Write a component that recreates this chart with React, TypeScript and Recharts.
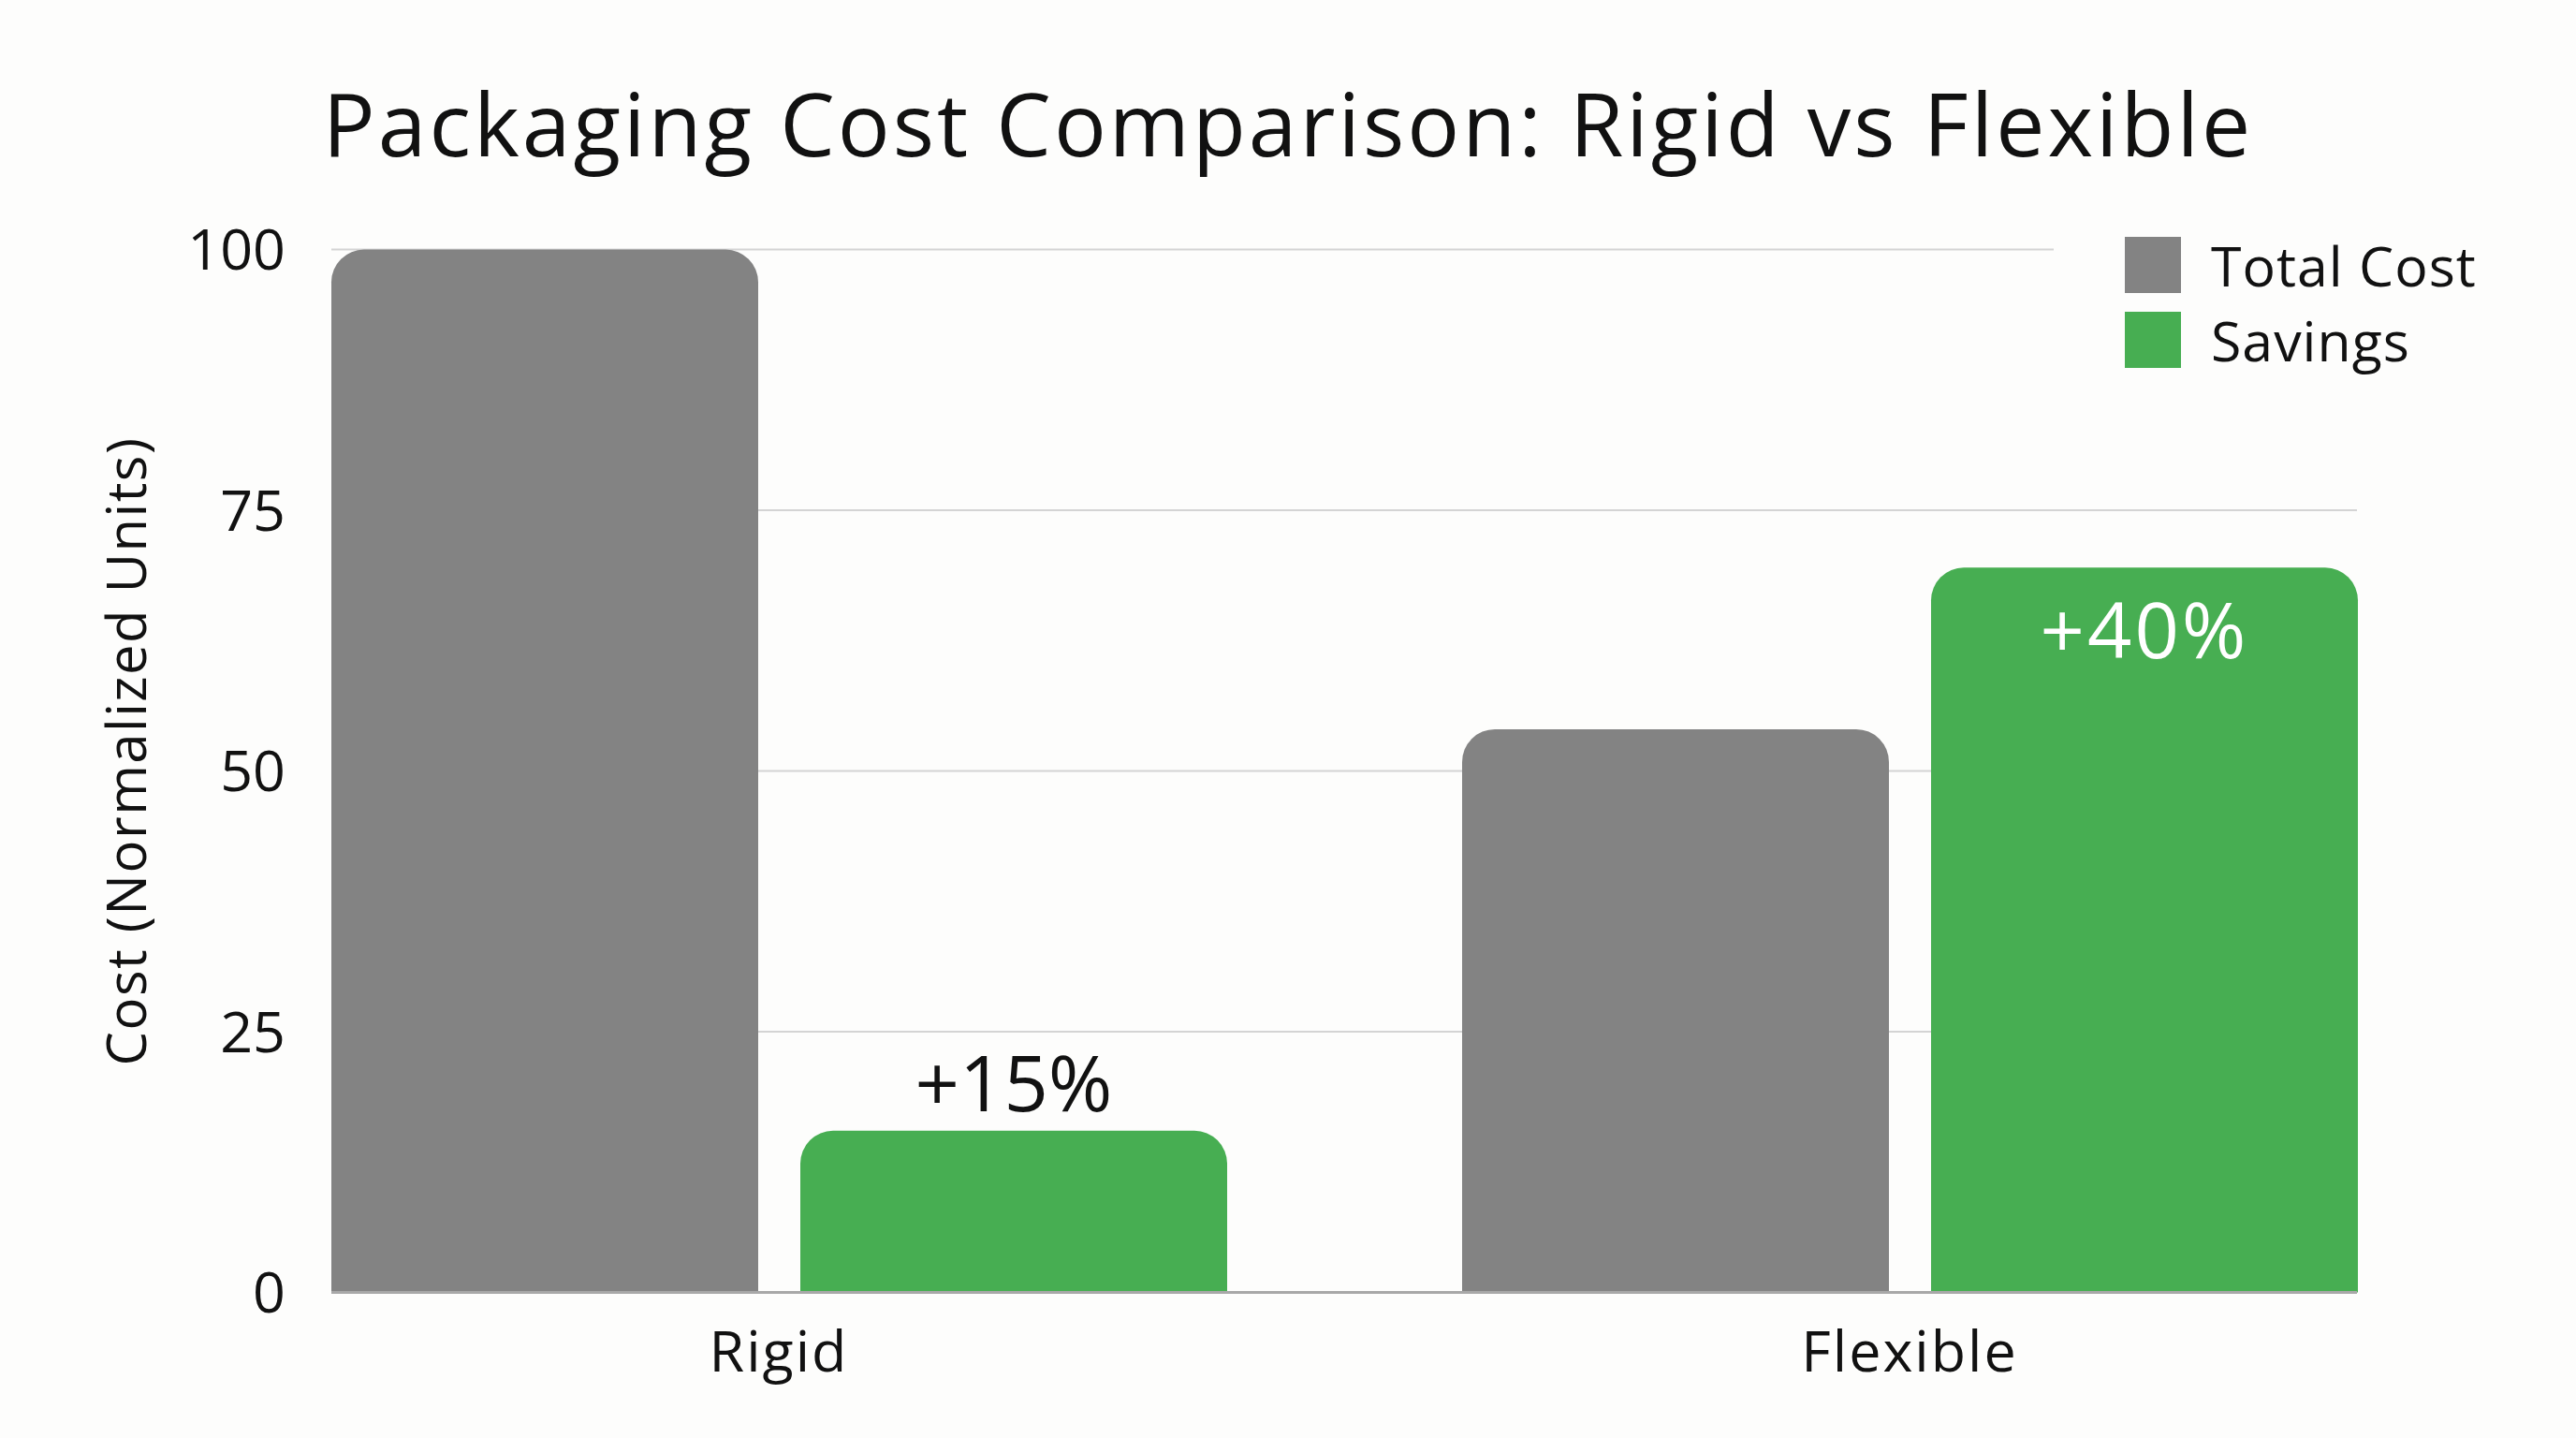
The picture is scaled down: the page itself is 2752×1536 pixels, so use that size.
import React from 'react';
import { BarChart, Bar, XAxis, YAxis, CartesianGrid, Legend, LabelList } from 'recharts';

const categories = ['Rigid', 'Flexible'];
const totalCost = [100, 54];
const savings = [15.5, 69.5];
const savingsLabels = ['+15%', '+40%'];
const yTicks = [0, 25, 50, 75, 100];
const seriesNames = ['Total Cost', 'Savings'];

const FONT = '"Open Sans", "Noto Sans", sans-serif';
const GRAY = '#838383';
const GREEN = '#47AE52';
const BG = '#FDFDFC';
const TEXT = '#111111';

const data = categories.map((c, i) => ({
  name: c,
  total: totalCost[i],
  savings: savings[i],
  label: savingsLabels[i],
}));

const LegendContent = () => {
  const colors = [GRAY, GREEN];
  return (
    <div style={{ background: BG, padding: '20px 0 20px 76px', width: 480, boxSizing: 'border-box' }}>
      {seriesNames.map((n, i) => (
        <div key={n} style={{ display: 'flex', alignItems: 'center', height: 60, marginBottom: i === 0 ? 20 : 0 }}>
          <div style={{ width: 60, height: 60, background: colors[i], marginRight: 32 }} />
          <span style={{ fontFamily: FONT, fontSize: 59, color: TEXT, lineHeight: '60px', letterSpacing: 1 }}>{n}</span>
        </div>
      ))}
    </div>
  );
};

const SavingsLabel = (props: any) => {
  const { x, y, width, index } = props;
  const inside = index === 1;
  return (
    <text
      x={x + width / 2}
      y={inside ? y + 97 : y - 21}
      textAnchor="middle"
      fill={inside ? '#FFFFFF' : TEXT}
      fontFamily={FONT}
      fontSize={83}
      letterSpacing={inside ? 3 : 0}
    >
      {savingsLabels[index]}
    </text>
  );
};

const YLabel = (props: any) => {
  const vb = props.viewBox || {};
  const cx = vb.x + 39;
  const cy = vb.y + vb.height / 2 - 21;
  return (
    <text
      x={cx}
      y={cy}
      textAnchor="middle"
      dominantBaseline="central"
      transform={`rotate(-90, ${cx}, ${cy})`}
      fill={TEXT}
      fontFamily={FONT}
      fontSize={58}
      letterSpacing={1.5}
    >
      Cost (Normalized Units)
    </text>
  );
};

export default function App() {
  return (
    <div style={{ position: 'fixed', left: 0, top: 0, width: 2752, height: 1536, background: BG }}>
      <svg width={2752} height={200} style={{ position: 'absolute', left: 0, top: 0 }}>
        <text x={1376} y={167} textAnchor="middle" fill={TEXT} fontFamily={FONT} fontSize={93} letterSpacing={3}>
          Packaging Cost Comparison: Rigid vs Flexible
        </text>
      </svg>
      <div style={{ position: 'absolute', left: 0, top: 0 }}>
        <BarChart
          width={2752}
          height={1536}
          data={data}
          margin={{ top: 266.5, right: 234, bottom: 55.5, left: 94 }}
          barCategoryGap={126}
          barGap={45}
        >
          <CartesianGrid vertical={false} stroke="#D4D4D4" strokeWidth={2} />
          <XAxis
            dataKey="name"
            height={100}
            padding={{ left: -126, right: -126 }}
            axisLine={{ stroke: '#A8A8A8', strokeWidth: 3 }}
            tickLine={false}
            tickMargin={35}
            tick={{ fill: TEXT, fontFamily: FONT, fontSize: 61, letterSpacing: 2 }}
          />
          <YAxis
            width={260}
            domain={[0, 100]}
            ticks={yTicks}
            axisLine={false}
            tickLine={false}
            tickMargin={43}
            tick={{ fill: TEXT, fontFamily: FONT, fontSize: 61 }}
            label={<YLabel />}
          />
          <Legend
            layout="horizontal"
            verticalAlign="middle"
            align="center"
            content={<LegendContent />}
            wrapperStyle={{ position: 'absolute', left: 2194, top: 233, width: 480 }}
          />
          <Bar dataKey="total" name={seriesNames[0]} fill={GRAY} radius={[35, 35, 0, 0]} isAnimationActive={false} />
          <Bar dataKey="savings" name={seriesNames[1]} fill={GREEN} radius={[35, 35, 0, 0]} isAnimationActive={false}>
            <LabelList dataKey="label" content={<SavingsLabel />} />
          </Bar>
        </BarChart>
      </div>
    </div>
  );
}
